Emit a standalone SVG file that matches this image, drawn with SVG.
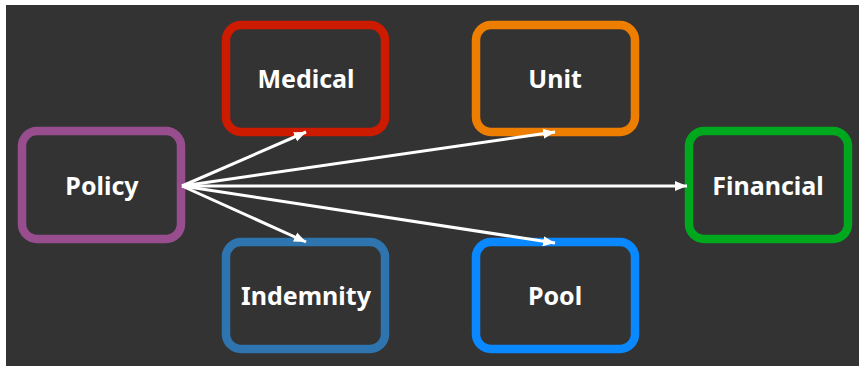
<svg xmlns="http://www.w3.org/2000/svg" width="860" height="366" viewBox="0 0 860 366">
<defs>
<style>
.box{fill:#333333;stroke-width:8.5}
.lbl{font-family:"Noto Sans","Open Sans","Liberation Sans",sans-serif;font-weight:bold;font-size:25px;fill:#ffffff;text-anchor:middle}
.conn{stroke:#ffffff;stroke-width:3;fill:none;marker-end:url(#ah)}
</style>
<marker id="ah" markerUnits="userSpaceOnUse" markerWidth="13" markerHeight="11" refX="12" refY="5.5" orient="auto">
<path d="M0,0.5 L12,5.5 L0,10.5 z" fill="#ffffff"/>
</marker>
</defs>
<rect x="0" y="0" width="860" height="366" fill="#ffffff"/>
<rect x="6" y="5" width="853" height="361" fill="#333333"/>
<g id="policy"><rect class="box" x="22" y="131" width="159" height="108" rx="15" stroke="#984E8E"/><text class="lbl" x="102" y="195">Policy</text></g>
<g id="medical"><rect class="box" x="226" y="25" width="159" height="107" rx="15" stroke="#CD1B00"/><text class="lbl" x="306" y="88">Medical</text></g>
<g id="unit"><rect class="box" x="476" y="25" width="159" height="107" rx="15" stroke="#EE7E00"/><text class="lbl" x="555" y="88">Unit</text></g>
<g id="financial"><rect class="box" x="689" y="131" width="159" height="108" rx="15" stroke="#00A81E"/><text class="lbl" x="768" y="195">Financial</text></g>
<g id="indemnity"><rect class="box" x="226" y="242" width="159" height="107" rx="15" stroke="#2E75B0"/><text class="lbl" x="306" y="305">Indemnity</text></g>
<g id="pool"><rect class="box" x="476" y="242" width="159" height="107" rx="15" stroke="#0A88FF"/><text class="lbl" x="555" y="305">Pool</text></g>
<g id="connectors">
<line class="conn" x1="182" y1="186" x2="306" y2="132"/>
<line class="conn" x1="182" y1="186" x2="555" y2="132"/>
<line class="conn" x1="182" y1="186" x2="687" y2="186"/>
<line class="conn" x1="182" y1="186" x2="306" y2="242"/>
<line class="conn" x1="182" y1="186" x2="555" y2="243"/>
</g>
</svg>
